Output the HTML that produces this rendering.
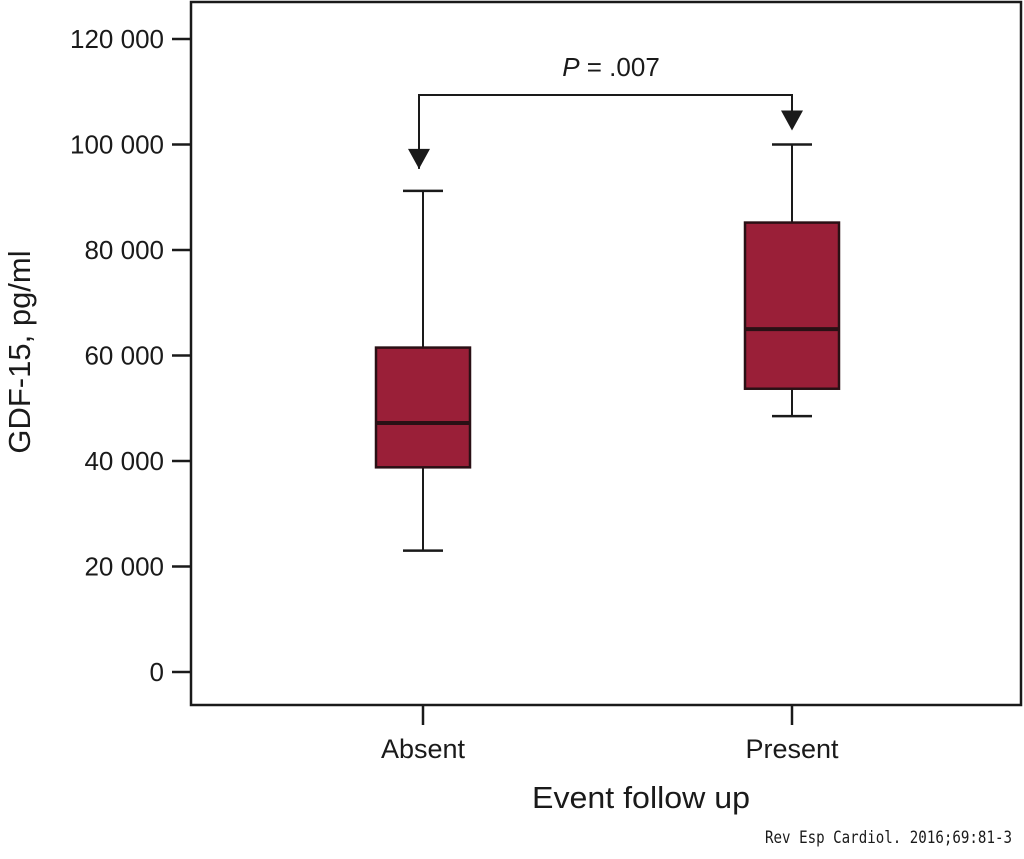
<!DOCTYPE html>
<html><head><meta charset="utf-8"><style>
html,body{margin:0;padding:0;background:#fff;}
svg{display:block;font-family:"Liberation Sans",Arial,sans-serif;}
</style></head><body>
<svg id="chart" width="1024" height="859" viewBox="0 0 1024 859" xmlns="http://www.w3.org/2000/svg">
<rect x="191" y="2" width="830" height="703" fill="none" stroke="#1a1a1a" stroke-width="2.5"/>
<g id="yaxis"></g>
<g id="boxes"></g>
<text transform="translate(30,352) rotate(-90)" text-anchor="middle" font-size="31" fill="#1a1a1a">GDF-15, pg/ml</text>
<text x="641" y="808" text-anchor="middle" font-size="31" textLength="218" lengthAdjust="spacingAndGlyphs" fill="#1a1a1a">Event follow up</text>
<text x="611" y="76" text-anchor="middle" font-size="26" fill="#1a1a1a"><tspan font-style="italic">P</tspan> = .007</text>
<text x="765" y="843" font-size="17" textLength="247" lengthAdjust="spacingAndGlyphs" font-family="'DejaVu Sans Mono','Liberation Mono',monospace" fill="#1a1a1a">Rev Esp Cardiol. 2016;69:81-3</text>
</svg>
<script>
const categories = ["Absent", "Present"];
const whiskerLow = [23000, 48500];
const q1 = [38800, 53700];
const median = [47200, 65000];
const q3 = [61500, 85200];
const whiskerHigh = [91200, 100000];
const yTicks = [0, 20000, 40000, 60000, 80000, 100000, 120000];
const yTickLabels = ["0", "20 000", "40 000", "60 000", "80 000", "100 000", "120 000"];

const NS = "http://www.w3.org/2000/svg";
function y(v){ return 672 - v * (633/120000); }
const xCenters = [423, 792];
function x(i){ return xCenters[i]; }
function mk(tag, attrs, parent){
  const e = document.createElementNS(NS, tag);
  for (const k in attrs) e.setAttribute(k, attrs[k]);
  parent.appendChild(e); return e;
}
const ya = document.getElementById('yaxis');
yTicks.forEach((t, i) => {
  const l = mk('line', {x1:172, x2:191, y1:y(t), y2:y(t), stroke:'#1a1a1a', 'stroke-width':2.5}, ya);
  
  
  const tx = mk('text', {x:164, y:y(t)+9, 'text-anchor':'end', 'font-size':26, fill:'#1a1a1a'}, ya);
  tx.textContent = yTickLabels[i];
  
  
});
const bx = document.getElementById('boxes');
categories.forEach((c, i) => {
  const cx = x(i);
  const tk = mk('line', {x1:cx, x2:cx, y1:705, y2:725, stroke:'#1a1a1a', 'stroke-width':2.5}, bx);
  
  
  const lb = mk('text', {x:cx, y:758, 'text-anchor':'middle', 'font-size':27, fill:'#1a1a1a'}, bx);
  lb.textContent = c;
  
  
  const w = mk('line', {x1:cx, x2:cx, y1:y(whiskerHigh[i]), y2:y(whiskerLow[i]), stroke:'#1a1a1a', 'stroke-width':2}, bx);
  
  
  [whiskerHigh[i], whiskerLow[i]].forEach(v => {
    const cap = mk('line', {x1:cx-20, x2:cx+20, y1:y(v), y2:y(v), stroke:'#1a1a1a', 'stroke-width':2.5}, bx);
    
    
  });
  const r = mk('rect', {x:cx-47, y:y(q3[i]), width:94, height:y(q1[i])-y(q3[i]), fill:'#9a1f38', stroke:'#2a1015', 'stroke-width':2.5}, bx);
  
  
  const m = mk('line', {x1:cx-47, x2:cx+47, y1:y(median[i]), y2:y(median[i]), stroke:'#2a1015', 'stroke-width':4}, bx);
  
  
});
const by = 95;
const ax = x(0) - 4, px = x(1);
const br = mk('path', {d:`M${ax} ${y(whiskerHigh[0])-22} L${ax} ${by} L${px} ${by} L${px} ${y(whiskerHigh[1])-20}`, fill:'none', stroke:'#1a1a1a', 'stroke-width':2}, bx);


[[ax, y(whiskerHigh[0])-22], [px, y(whiskerHigh[1])-14]].forEach(p => {
  const a = mk('polygon', {points:`${p[0]-11},${p[1]-20} ${p[0]+11},${p[1]-20} ${p[0]},${p[1]}`, fill:'#1a1a1a'}, bx);
  
  
});
</script>
</body></html>
